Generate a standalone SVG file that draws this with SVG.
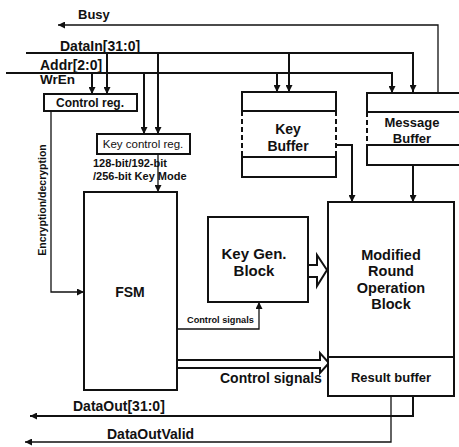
<svg xmlns="http://www.w3.org/2000/svg" width="459" height="447" viewBox="0 0 459 447">
<style>
text{font-family:"Liberation Sans",Arial,sans-serif;font-weight:bold;fill:#111}
.box{fill:#fff;stroke:#111;stroke-width:2}
.ln{fill:none;stroke:#111;stroke-width:2}
.thin{fill:none;stroke:#111;stroke-width:1.3}
.dash{fill:none;stroke:#111;stroke-width:2;stroke-dasharray:5,3}
.hollow{fill:#fff;stroke:#111;stroke-width:2;stroke-linejoin:miter}
.m{text-anchor:middle}
</style>
<defs>
<marker id="a" viewBox="0 0 10 10" refX="10" refY="5" markerWidth="7" markerHeight="7" markerUnits="userSpaceOnUse" orient="auto"><path d="M0,0 L10,5 L0,10 z" fill="#111"/></marker>
</defs>
<rect width="459" height="447" fill="#fff"/>

<g id="connectors">
<path class="thin" d="M438,93 V25 H58" marker-end="url(#a)"/>
<path class="ln" d="M26,53 H413 V92" marker-end="url(#a)"/>
<path class="ln" d="M107,53 V94" marker-end="url(#a)"/>
<path class="ln" d="M158,53 V134" marker-end="url(#a)"/>
<path class="ln" d="M289,53 V92" marker-end="url(#a)"/>
<path class="ln" d="M6,73 H392 V93" marker-end="url(#a)"/>
<path class="ln" d="M92,73 V94" marker-end="url(#a)"/>
<path class="ln" d="M144,73 V134" marker-end="url(#a)"/>
<path class="ln" d="M277,73 V92" marker-end="url(#a)"/>
<path class="thin" d="M51,112 V292 H84" marker-end="url(#a)"/>
<path class="thin" d="M158,154 V192" marker-end="url(#a)"/>
<path class="ln" d="M336,145 H352 V202" marker-end="url(#a)"/>
<path class="ln" d="M413,165 V202" marker-end="url(#a)"/>
<path class="thin" d="M177,329 H259 V302" marker-end="url(#a)"/>
<path class="ln" d="M413,396 V416 H30" marker-end="url(#a)"/>
<path class="thin" d="M391,396 V442 H25" marker-end="url(#a)"/>
<polygon class="hollow" points="308,265 317,265 317,255 327,270 317,286 317,277 308,277"/>
<polygon class="hollow" points="177,360 320,360 320,353 329,363 320,373 320,368 177,368"/>
</g>

<g id="labels">
<text x="78" y="19" font-size="13">Busy</text>
<text x="60" y="51" font-size="14">DataIn[31:0]</text>
<text x="40" y="70" font-size="14">Addr[2:0]</text>
<text x="40" y="84" font-size="13.5">WrEn</text>
<text x="93" y="167" font-size="11">128-bit/192-bit</text>
<text x="93" y="180" font-size="11">/256-bit Key Mode</text>
<text class="m" transform="translate(46,200) rotate(-90)" font-size="10.5">Encryption/decryption</text>
<text x="187" y="323" font-size="9.2">Control signals</text>
<text x="220" y="383" font-size="14">Control signals</text>
<text x="73" y="411" font-size="14">DataOut[31:0]</text>
<text x="107" y="439" font-size="14">DataOutValid</text>
</g>

<g id="control-reg">
<rect class="box" x="44" y="94" width="93" height="17"/>
<text class="m" x="90" y="107" font-size="12">Control reg.</text>
</g>

<g id="key-control-reg">
<rect class="box" x="97" y="134" width="93" height="20"/>
<text class="m" x="143" y="148" font-size="11.5" style="font-weight:normal">Key control reg.</text>
</g>

<g id="fsm">
<rect class="box" x="84" y="192" width="93" height="198"/>
<text class="m" x="130" y="297" font-size="14">FSM</text>
</g>

<g id="key-gen">
<rect class="box" x="208" y="217" width="100" height="85"/>
<text class="m" x="254" y="259" font-size="15">Key Gen.</text>
<text class="m" x="254" y="276" font-size="15">Block</text>
</g>

<g id="key-buffer">
<rect class="box" x="242" y="92" width="94" height="19"/>
<path class="dash" d="M242,111 V157 M336,111 V157"/>
<rect class="box" x="242" y="157" width="94" height="20"/>
<text class="m" x="288" y="134" font-size="14">Key</text>
<text class="m" x="288" y="151" font-size="14">Buffer</text>
</g>

<g id="message-buffer">
<rect class="box" x="367" y="93" width="96" height="19"/>
<path class="dash" d="M367,112 V145"/>
<path class="ln" d="M367,112 H463"/>
<rect class="box" x="367" y="145" width="96" height="20"/>
<text class="m" x="412" y="127" font-size="13">Message</text>
<text class="m" x="412" y="143" font-size="13">Buffer</text>
</g>

<g id="round-block">
<rect class="box" x="328" y="202" width="126" height="194"/>
<path class="ln" d="M328,357 H454"/>
<text class="m" x="391" y="260" font-size="14.5">Modified</text>
<text class="m" x="391" y="276" font-size="14.5">Round</text>
<text class="m" x="391" y="292.5" font-size="14.5">Operation</text>
<text class="m" x="391" y="309" font-size="14.5">Block</text>
<text class="m" x="391" y="382" font-size="13">Result buffer</text>
</g>
</svg>
